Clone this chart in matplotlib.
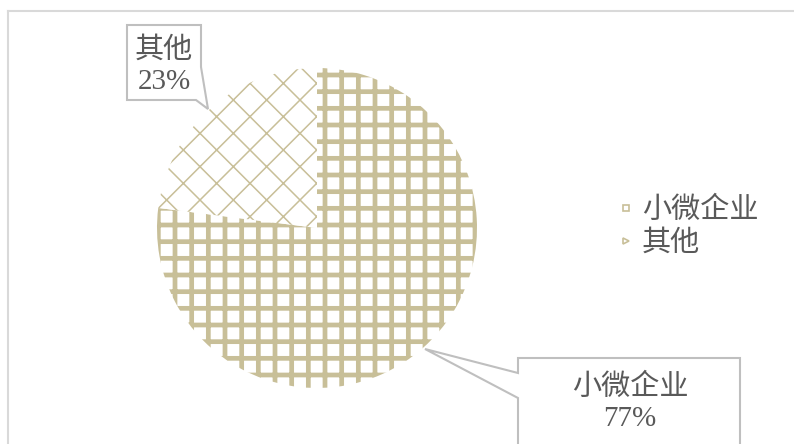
import matplotlib
matplotlib.use("Agg")
import matplotlib.pyplot as plt
from matplotlib.patches import Polygon
from matplotlib.lines import Line2D

plt.rcParams['font.family'] = ['Liberation Serif', 'Noto Sans CJK SC', 'DejaVu Sans']

# 数据
labels = ['小微企业', '其他']
shares = [77, 23]
hatches = ['+', 'x']
hatch_widths = [3.4, 1.1]
legend_markers = ['s', '>']

TAN = '#c8bf98'
TEXT = '#595959'
BOX = '#bfbfbf'

W, H = 794, 444
fig = plt.figure(figsize=(W / 100, H / 100), dpi=100)

def px(x, y):
    return x / W, 1 - y / H

# 图表外框（左、上）
fig.add_artist(Line2D([8 / W, 8 / W], [0, 1 - 11 / H], color='#d9d9d9', lw=1.5))
fig.add_artist(Line2D([8 / W, 1], [1 - 11 / H, 1 - 11 / H], color='#d9d9d9', lw=1.5))

# 饼图
cx, cy, r = 317, 228, 160
ax = fig.add_axes([(cx - r) / W, (H - cy - r) / H, 2 * r / W, 2 * r / H])
wedges, _ = ax.pie(shares, startangle=90, counterclock=False, radius=1,
                   colors=['white'] * len(shares))
for w, h, lw in zip(wedges, hatches, hatch_widths):
    w.set_edgecolor(TAN)
    w.set_linewidth(0)
    w.set_hatch(h)
    if hasattr(w, 'set_hatch_linewidth'):
        w.set_hatch_linewidth(lw)
ax.set_xlim(-1, 1)
ax.set_ylim(-1, 1)
ax.set_aspect('equal')
ax.axis('off')

# 数据标签（带引线的方框）
callouts = [
    ([(127, 25), (201, 25), (201, 67), (208, 109), (196, 100), (127, 100)], (164, 66)),
    ([(518, 358), (740, 358), (740, 450), (518, 450), (518, 398), (425, 349), (518, 373)], (630, 403)),
]
for i, (pts, (tx, ty)) in enumerate(callouts):
    idx = 1 - i
    poly = Polygon([px(x, y) for x, y in pts], closed=True, transform=fig.transFigure,
                   facecolor='white', edgecolor=BOX, lw=1.5, zorder=5)
    fig.add_artist(poly)
    fig.text(*px(tx, ty), f'{labels[idx]}\n{shares[idx]}%', ha='center', va='center',
             fontsize=21, color=TEXT, linespacing=1.25, zorder=6)

# 图例
handles = [Line2D([], [], marker=m, ls='none', ms=5, mfc='white', mec=TAN, mew=1.2)
           for m in legend_markers]
leg = fig.legend(handles, labels, loc='center left', bbox_to_anchor=px(604, 227),
                 frameon=False, fontsize=21, handlelength=0.5, handletextpad=0.3,
                 labelspacing=0.2, labelcolor=TEXT, borderpad=0)

fig.savefig('out.png', dpi=100)
